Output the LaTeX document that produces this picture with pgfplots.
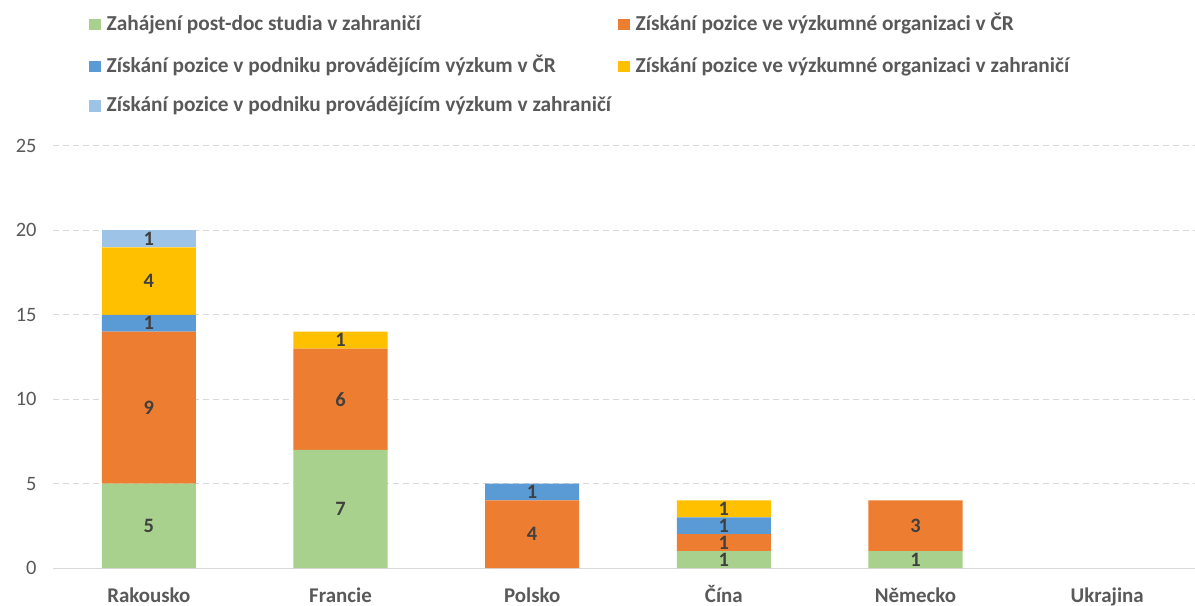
\documentclass[border=0pt]{standalone}
\usepackage{pgfplots}
\pgfplotsset{compat=1.18}
\usepackage{pgfplotstable}
\usepackage{fontspec}
\setmainfont{Carlito}
\definecolor{cgreen}{HTML}{A9D18E}
\definecolor{corange}{HTML}{ED7D31}
\definecolor{cblue}{HTML}{5B9BD5}
\definecolor{cyellow}{HTML}{FFC000}
\definecolor{clblue}{HTML}{9DC3E6}
\definecolor{cgrid}{HTML}{D9D9D9}
\definecolor{ctick}{HTML}{595959}
\definecolor{clabel}{HTML}{404040}
\pgfplotstableread{
x green orange blue yellow lblue
0 5 9 1 4 1
1 7 6 0 1 0
2 0 4 1 0 0
3 1 1 1 1 0
4 1 3 0 0 0
5 0 0 0 0 0
}\datatable
\pgfplotstableread{
x y l
0 2.5 5
0 9.5 9
0 14.5 1
0 17 4
0 19.5 1
1 3.5 7
1 10 6
1 13.5 1
2 2 4
2 4.5 1
3 0.5 1
3 1.5 1
3 2.5 1
3 3.5 1
4 0.5 1
4 2.5 3
}\labeltable
\begin{document}
\begin{tikzpicture}
\begin{axis}[
  scale only axis, width=1150bp, height=422bp,
  at={(0,0)}, anchor=south west,
  ybar stacked, bar width=94bp,
  xmin=-0.5, xmax=5.5, ymin=0, ymax=25,
  xtick={0,...,5},
  xticklabels={Rakousko,Francie,Polsko,Čína,Německo,Ukrajina},
  ytick={0,5,...,25},
  /pgf/number format/assume math mode=true,
  axis x line*=bottom, axis y line*=left,
  x axis line style={draw=cgrid, line width=1bp},
  y axis line style={draw=none},
  major tick length=0pt,
  ymajorgrids,
  major grid style={draw=cgrid, line width=1bp, dash pattern=on 6bp off 4bp},
  xticklabel style={font=\bfseries\fontsize{21}{25}\selectfont, text=ctick, anchor=base, yshift=-34bp},
  yticklabel style={font=\fontsize{20.5}{24}\selectfont, text=ctick, anchor=east, xshift=-13bp},
  legend columns=2,
  legend style={at={(axis description cs:0.0313,1.321)}, anchor=north west, draw=none, fill=none,
    font=\bfseries\fontsize{21.4}{25}\selectfont, text=ctick, row sep=19bp, inner sep=0pt,
    cells={anchor=base west},
    /tikz/every odd column/.append style={column sep=4bp},
    /tikz/every even column/.append style={column sep=5bp}},
  legend image code/.code={\fill[#1,draw=none] (0bp,0bp) rectangle (11.5bp,11.5bp);},
]
\addplot[fill=cgreen, draw=none] table[x=x, y=green] {\datatable};
\addplot[fill=corange, draw=none] table[x=x, y=orange] {\datatable};
\addplot[fill=cblue, draw=none] table[x=x, y=blue] {\datatable};
\addplot[fill=cyellow, draw=none] table[x=x, y=yellow] {\datatable};
\addplot[fill=clblue, draw=none] table[x=x, y=lblue] {\datatable};
\legend{Zahájení post-doc studia v zahraničí,
Získání pozice ve výzkumné organizaci v ČR,
Získání pozice v podniku provádějícím výzkum v ČR,
Získání pozice ve výzkumné organizaci v zahraničí,
Získání pozice v podniku provádějícím výzkum v zahraničí}
\end{axis}
\begin{axis}[
  scale only axis, width=1150bp, height=422bp,
  at={(0,0)}, anchor=south west,
  xmin=-0.5, xmax=5.5, ymin=0, ymax=25, hide axis]
\addplot[draw=none, mark=none, only marks, point meta=explicit symbolic,
  nodes near coords,
  every node near coord/.append style={anchor=center, inner sep=0pt, font=\bfseries\fontsize{20.5}{24}\selectfont, text=clabel}]
  table[x=x, y=y, meta=l] {\labeltable};
\end{axis}
\pgfresetboundingbox
\useasboundingbox (-53bp,-38bp) rectangle (1142bp,568bp);
\end{tikzpicture}
\end{document}
